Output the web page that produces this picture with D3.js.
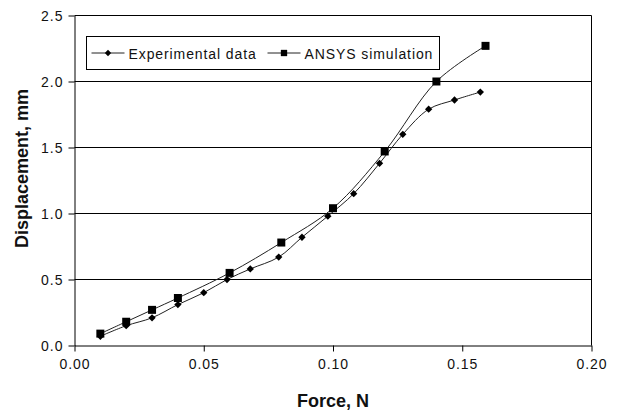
<!DOCTYPE html>
<html>
<head>
<meta charset="utf-8">
<script src="https://cdn.jsdelivr.net/npm/d3@7"></script>
<style>
  body { margin: 0; background: #fff; }
  text { font-family: Arial, "Liberation Sans", sans-serif; fill: #111; }
  .tick text { font-size: 14px; letter-spacing: 1px; }
  .axisTitle { font-size: 18px; font-weight: bold; }
  .legendText { font-size: 14px; letter-spacing: 0.9px; }
</style>
</head>
<body>
<div id="chart"></div>
<script>
// chart data
var expForce = [0.010, 0.020, 0.030, 0.040, 0.050, 0.059, 0.068, 0.079, 0.088, 0.098, 0.108, 0.118, 0.127, 0.137, 0.147, 0.157];
var expDisp  = [0.07, 0.15, 0.21, 0.31, 0.40, 0.50, 0.58, 0.67, 0.82, 0.98, 1.15, 1.38, 1.60, 1.79, 1.86, 1.92];
var simForce = [0.010, 0.020, 0.030, 0.040, 0.060, 0.080, 0.100, 0.120, 0.140, 0.159];
var simDisp  = [0.09, 0.18, 0.27, 0.36, 0.55, 0.78, 1.04, 1.47, 2.00, 2.27];
var xTicks = [0, 0.05, 0.10, 0.15, 0.20];
var yTicks = [0, 0.5, 1.0, 1.5, 2.0, 2.5];
var seriesNames = ["Experimental data", "ANSYS simulation"];

var svgWidth = 620;
var svgHeight = 412;
var margin = { top: 15, right: 29, bottom: 67, left: 74 };
var width = svgWidth - margin.left - margin.right;
var height = svgHeight - margin.top - margin.bottom;

var svg = d3.select("#chart")
  .append("svg")
  .attr("width", svgWidth)
  .attr("height", svgHeight);

var chartGroup = svg.append("g")
  .attr("transform", `translate(${margin.left + 0.5}, ${margin.top + 0.5})`);

var xScale = d3.scaleLinear().domain([0, 0.2]).range([0, width]);
var yScale = d3.scaleLinear().domain([0, 2.5]).range([height, 0]);

// gridlines
chartGroup.selectAll(".grid")
  .data(yTicks.slice(1))
  .join("line")
  .attr("class", "grid")
  .attr("x1", 0).attr("x2", width)
  .attr("y1", d => yScale(d)).attr("y2", d => yScale(d))
  .attr("stroke", "#000").attr("stroke-width", 1);

// right border
chartGroup.append("line")
  .attr("x1", width).attr("x2", width)
  .attr("y1", 0).attr("y2", height)
  .attr("stroke", "#000");

// axes
var bottomAxis = d3.axisBottom(xScale).tickValues(xTicks).tickFormat(d3.format(".2f"))
  .tickSizeInner(6).tickSizeOuter(0).tickPadding(8);
var leftAxis = d3.axisLeft(yScale).tickValues(yTicks).tickFormat(d3.format(".1f"))
  .tickSizeInner(6).tickSizeOuter(0).tickPadding(5);

var xAxisG = chartGroup.append("g")
  .attr("transform", `translate(0, ${height})`)
  .call(bottomAxis);
var yAxisG = chartGroup.append("g").call(leftAxis);

[xAxisG, yAxisG].forEach(g => {
  g.select(".domain").attr("stroke", "#000");
  g.selectAll(".tick line").attr("stroke", "#000");
  g.selectAll(".tick text").attr("fill", "#222").attr("font-family", null).attr("font-size", null);
});
yAxisG.selectAll(".tick text").attr("dy", "0.36em");

// lines
var expData = expForce.map((f, i) => ({ x: f, y: expDisp[i] }));
var simData = simForce.map((f, i) => ({ x: f, y: simDisp[i] }));

var line = d3.line()
  .x(d => xScale(d.x))
  .y(d => yScale(d.y))
  .curve(d3.curveCatmullRom.alpha(0.5));

chartGroup.append("path")
  .datum(simData)
  .attr("d", line)
  .attr("fill", "none")
  .attr("stroke", "#222")
  .attr("stroke-width", 1);

chartGroup.append("path")
  .datum(expData)
  .attr("d", line)
  .attr("fill", "none")
  .attr("stroke", "#222")
  .attr("stroke-width", 1);

var diamond = d3.symbol().type(d3.symbolDiamond2).size(34);
var square = d3.symbol().type(d3.symbolSquare).size(64);

chartGroup.selectAll(".sim")
  .data(simData)
  .join("path")
  .attr("class", "sim")
  .attr("d", square)
  .attr("transform", d => `translate(${xScale(d.x)}, ${yScale(d.y)})`)
  .attr("fill", "#000");

chartGroup.selectAll(".exp")
  .data(expData)
  .join("path")
  .attr("class", "exp")
  .attr("d", diamond)
  .attr("transform", d => `translate(${xScale(d.x)}, ${yScale(d.y)})`)
  .attr("fill", "#000");

// legend
var legend = svg.append("g").attr("transform", "translate(86.5, 36.5)");
legend.append("rect")
  .attr("width", 353).attr("height", 33)
  .attr("fill", "#fff").attr("stroke", "#000");

var legendItems = [
  { name: seriesNames[0], sym: d3.symbol().type(d3.symbolDiamond2).size(26), x0: 5 },
  { name: seriesNames[1], sym: d3.symbol().type(d3.symbolSquare).size(40), x0: 181 }
];
legendItems.forEach(item => {
  var g = legend.append("g").attr("transform", `translate(${item.x0}, 16.5)`);
  g.append("line").attr("x1", 0).attr("x2", 33).attr("y1", 0).attr("y2", 0).attr("stroke", "#222");
  g.append("path").attr("d", item.sym).attr("transform", "translate(16.5, 0)").attr("fill", "#000");
  g.append("text").attr("class", "legendText").attr("x", 37).attr("y", 5.5).text(item.name);
});

// axis titles
chartGroup.append("text")
  .attr("class", "axisTitle")
  .attr("text-anchor", "middle")
  .attr("transform", `translate(${-47}, ${height / 2 - 12}) rotate(-90)`)
  .text("Displacement, mm");

chartGroup.append("text")
  .attr("class", "axisTitle")
  .attr("text-anchor", "middle")
  .attr("x", xScale(0.1))
  .attr("y", height + 61)
  .text("Force, N");
</script>
</body>
</html>
